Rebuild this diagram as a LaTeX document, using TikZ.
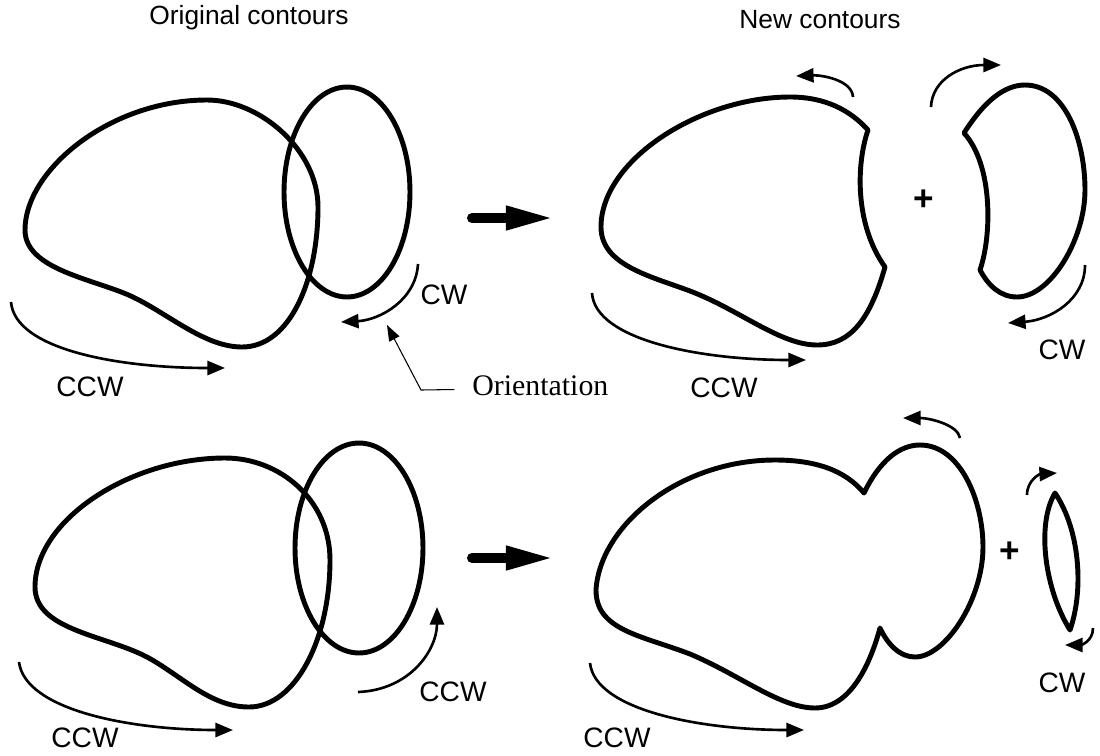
\documentclass[tikz,border=0pt]{standalone}
\usepackage{fontspec}
\setmainfont{Liberation Sans}
\newfontfamily\serifA{Liberation Serif}
\usepackage{tikz}
\usetikzlibrary{arrows.meta}
\tikzstyle{contour}=[line width=2.8pt, line join=round]
\tikzstyle{dirArrow}=[line width=1.5pt, -{Triangle[length=10pt,width=8pt]}]
\tikzstyle{lab}=[font=\fontsize{16}{18}\selectfont, inner sep=0pt]
\tikzstyle{heading}=[font=\fontsize{15}{17}\selectfont, inner sep=0pt]
\tikzstyle{plus}=[font=\fontsize{20}{22}\selectfont\bfseries, inner sep=0pt]
\newcommand{\bigArrow}[1]{
	\draw[line width=5.7pt, line cap=round, -{Triangle[length=28pt,width=12.5pt]}] #1 -- ++(83,0);
}

\begin{document}
\begin{tikzpicture}[x=0.02cm, y=-0.02cm]
	\useasboundingbox (0,0) rectangle (1100,755);
	% headings
	\node[heading] (origTitle) at (249,18) {Original contours};
	\node[heading] (newTitle) at (820,20) {New contours};
	% top left: original contours
	\draw[contour] (25,230) .. controls (25,170) and (110,100) .. (207,100)
		.. controls (260,100) and (318,150) .. (318,207)
		.. controls (318,280) and (290,347) .. (242,347)
		.. controls (205,347) and (170,315) .. (133,297)
		.. controls (95,279) and (25,270) .. cycle;
	\draw[contour] (347,192) ellipse [x radius=1.26cm, y radius=2.1cm];
	\draw[dirArrow] (11,302) .. controls (15,350) and (120,368) .. (225,368);
	\draw[dirArrow] (418,264) .. controls (416,300) and (380,320) .. (341,322);
	\node[lab] (ccwA) at (90,387) {CCW};
	\node[lab] (cwA) at (444,295) {CW};
	\node[lab, anchor=west, font=\fontsize{17}{19}\serifA] (orient) at (472,386) {Orientation};
	\coordinate (bendO) at (421,390);
	\coordinate (tipO) at (387,325);
	\draw[line width=0.6pt, -{Triangle[length=9pt,width=6.5pt]}] ([xshift=-10pt,yshift=-2pt]orient.west) -- (bendO) -- (tipO);
	\bigArrow{(472,218)}
	% top right: new contours
	\draw[contour] (868,130) .. controls (856,165) and (855,225) .. (885,267)
		.. controls (870,320) and (850,345) .. (817,345)
		.. controls (780,345) and (740,310) .. (690,291)
		.. controls (650,276) and (601,265) .. (601,227)
		.. controls (601,160) and (700,97) .. (790,97)
		.. controls (825,97) and (850,110) .. cycle;
	\draw[contour] (964,133) .. controls (985,100) and (1005,85) .. (1025,85)
		.. controls (1065,85) and (1085,140) .. (1085,190)
		.. controls (1085,240) and (1050,297) .. (1017,297)
		.. controls (1000,297) and (988,285) .. (980,270)
		.. controls (992,235) and (993,165) .. cycle;
	\node[plus] (plusA) at (924,200) {+};
	\draw[dirArrow] (853,97) .. controls (852,80) and (822,75) .. (796,76);
	\draw[dirArrow] (931,107) .. controls (932,80) and (960,65) .. (1001,65);
	\draw[dirArrow] (1085,265) .. controls (1085,300) and (1050,320) .. (1008,323);
	\draw[dirArrow] (592,293) .. controls (595,340) and (700,360) .. (806,360);
	\node[lab] (ccwB) at (724,388) {CCW};
	\node[lab] (cwB) at (1062,350) {CW};
	% bottom left: original contours
	\draw[contour] (35,587) .. controls (35,520) and (130,458) .. (225,458)
		.. controls (280,458) and (330,500) .. (330,560)
		.. controls (330,640) and (295,707) .. (249,707)
		.. controls (210,707) and (182,676) .. (147,657)
		.. controls (105,635) and (35,630) .. cycle;
	\draw[contour] (359,548) ellipse [x radius=1.28cm, y radius=2.1cm];
	\draw[dirArrow] (19,662) .. controls (25,710) and (130,730) .. (233,730);
	\draw[dirArrow] (358,692) .. controls (410,690) and (437,650) .. (437,607);
	\node[lab] (ccwC) at (85,738) {CCW};
	\node[lab] (ccwD) at (453,692) {CCW};
	\bigArrow{(472,558)}
	% bottom right: new contours
	\draw[contour] (864,493) .. controls (880,460) and (900,445) .. (920,445)
		.. controls (960,445) and (983,500) .. (983,547)
		.. controls (983,600) and (945,657) .. (915,657)
		.. controls (900,657) and (888,645) .. (880,628)
		.. controls (870,665) and (850,708) .. (815,708)
		.. controls (780,708) and (740,675) .. (690,654)
		.. controls (640,635) and (596,630) .. (596,590)
		.. controls (600,525) and (680,460) .. (775,460)
		.. controls (815,460) and (845,470) .. cycle;
	\draw[contour] (1055,493) .. controls (1036,525) and (1045,590) .. (1070,630) .. controls (1084,590) and (1080,530) .. cycle;
	\node[plus] (plusB) at (1010,552) {+};
	\draw[dirArrow] (960,438) .. controls (958,425) and (930,418) .. (903,418);
	\draw[dirArrow] (1027,495) .. controls (1027,480) and (1040,474) .. (1057,473);
	\draw[dirArrow] (1093,628) .. controls (1093,642) and (1080,645) .. (1065,645);
	\draw[dirArrow] (590,663) .. controls (595,710) and (700,730) .. (804,730);
	\node[lab] (cwC) at (1062,683) {CW};
	\node[lab] (ccwE) at (617,738) {CCW};
\end{tikzpicture}
\end{document}
